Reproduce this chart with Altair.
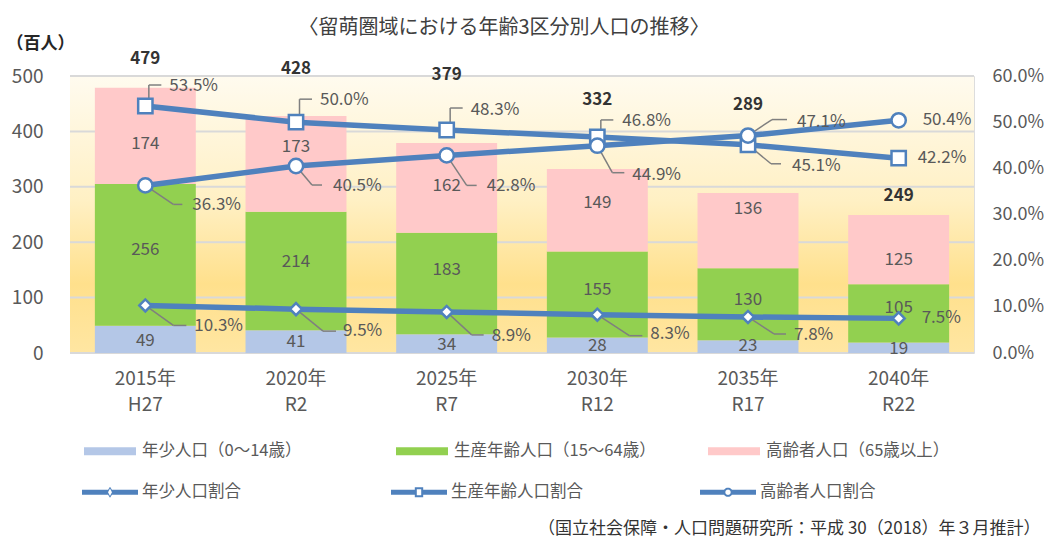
import math
import altair as alt
import pandas as pd

# ---------------- data ----------------
years = ["2015年", "2020年", "2025年", "2030年", "2035年", "2040年"]
eras = ["H27", "R2", "R7", "R12", "R17", "R22"]
young = [49, 41, 34, 28, 23, 19]
working = [256, 214, 183, 155, 130, 105]
elderly = [174, 173, 162, 149, 136, 125]
totals = [479, 428, 379, 332, 289, 249]
young_pct = [10.3, 9.5, 8.9, 8.3, 7.8, 7.5]
working_pct = [53.5, 50.0, 48.3, 46.8, 45.1, 42.2]
elderly_pct = [36.3, 40.5, 42.8, 44.9, 47.1, 50.4]

bar_names = ["年少人口（0～14歳）", "生産年齢人口（15～64歳）", "高齢者人口（65歳以上）"]
line_names = ["年少人口割合", "生産年齢人口割合", "高齢者人口割合"]
left_ticks = [0, 100, 200, 300, 400, 500]
right_ticks = [0, 10, 20, 30, 40, 50, 60]

title_text = "〈留萌圏域における年齢3区分別人口の推移〉"
unit_text = "（百人）"
source_text = "（国立社会保障・人口問題研究所：平成 30（2018）年３月推計）"

# ---------------- annotation layout (pixels / axis units) ----------------
# height (in 百人 axis units) at which each label sits
total_label_pos = [531, 513, 502, 457, 448, 283]
young_lbl_pos = [21, 19, 15, 12, 12, 8]
working_lbl_pos = [186, 165, 149, 114, 96, 82]
elderly_lbl_pos = [378, 372, 301, 270, 260, 168]
# per share label: text dx, text dy, leader start x, elbow x, elbow y, leader end x (None = no leader)
young_lbl = [(49, 21, 0, 28, 20, 41), (47, 22, 0, 27, 22, 40), (45, 24, 0, 25, 23, 37),
             (53, 19, 0, 32, 21, 45), (46, 18, 0, 26, 17, 38), (23, 0, None, None, None, None)]
working_lbl = [(24, -20, 3.5, 3.5, -21, 16), (24, -22, 3.5, 3.5, -23, 16), (24, -20, 3.5, 3.5, -22, 16),
               (25, -16, 3.5, 3.5, -17, 16), (44, 21, 0, 23, 19, 33), (19, 0, None, None, None, None)]
elderly_lbl = [(47, 20, 0, 28, 19, 37), (37, 20, 0, 16, 19, 26), (40, 31, 0, 20, 30, 30),
               (35, 29, 0, 15, 27, 27), (49, -14, 0, 24, -16, 39), (24, 0, None, None, None, None)]

# ---------------- styles ----------------
FONT = "Noto Sans CJK JP"
BLUE = "#4F81BD"
BAR_COLORS = ["#B4C7E7", "#92D050", "#FFC9C9"]
TXT = "#595959"
SHAPES = ["diamond", "square", "circle"]
SIZES = [144, 205, 205]


def _poly(r, n, ccw):
    ang = [2 * math.pi * k / n for k in range(n)]
    if ccw:
        ang = ang[::-1]
    pts = [f"{r * math.cos(a):.4f},{r * math.sin(a):.4f}" for a in ang]
    return "M" + "L".join(pts) + "Z"


def _bars(edge):
    return (f"M-1,-0.09H-{edge}V0.09H-1Z"
            f"M{edge},-0.09H1V0.09H{edge}Z")


# legend glyphs: thick line + hollow marker (outer ring clockwise, hole counter-clockwise)
LEGEND_PATHS = [
    _bars(0.075) + "M0,-0.2L0.125,0L0,0.2L-0.125,0Z" + "M0,-0.13L-0.07,0L0,0.13L0.07,0Z",
    _bars(0.12) + "M-0.15,-0.18H0.15V0.18H-0.15Z" + "M-0.079,-0.109V0.109H0.079V-0.109Z",
    _bars(0.13) + _poly(0.165, 28, False) + _poly(0.095, 28, True),
]

cats = [f"{y}|{e}" for y, e in zip(years, eras)]

# ---------------- tables ----------------
seg_rows = []
for i, c in enumerate(cats):
    for j, (vals, pos) in enumerate(zip([young, working, elderly],
                                        [young_lbl_pos, working_lbl_pos, elderly_lbl_pos])):
        seg_rows.append({"cat": c, "seg": bar_names[j], "value": vals[i], "order": j, "pos": pos[i]})
seg_df = pd.DataFrame(seg_rows)

tot_df = pd.DataFrame({"cat": cats, "total": totals, "pos": total_label_pos})
tick_df = pd.DataFrame({"tick": left_ticks})

line_rows = []
for name, pcts, lays in zip(line_names, [young_pct, working_pct, elderly_pct],
                            [young_lbl, working_lbl, elderly_lbl]):
    for c, p, lay in zip(cats, pcts, lays):
        tdx, tdy, sx, ex, ey, hx = lay
        line_rows.append({"cat": c, "series": name, "pct": p, "tdx": tdx, "tdy": tdy,
                          "sx": sx, "ex": ex, "ey": ey, "hx": hx})
line_df = pd.DataFrame(line_rows)
lead_df = line_df.dropna(subset=["hx"]).copy()

legend_df = pd.DataFrame({"cat": cats[:3], "key": line_names, "pct": [0, 0, 0]})

# ---------------- encodings ----------------
x_axis = alt.Axis(
    title=source_text, labelExpr="split(datum.label, '|')", labelAngle=0,
    labelFont=FONT, labelFontSize=19, labelColor=TXT, labelLineHeight=26, labelPadding=16,
    ticks=False, domain=False,
    titleFont=FONT, titleFontSize=17, titleFontWeight="normal", titleColor="#333333",
    titleX=970, titleY=175, titleAlign="right", titleBaseline="middle",
)
x_enc = alt.X("cat:N", sort=cats, axis=x_axis,
              scale=alt.Scale(paddingInner=0.33, paddingOuter=0.165))

y_left_scale = alt.Scale(domain=[0, 500], nice=False, zero=True)
y_left_axis = alt.Axis(
    values=left_ticks, grid=False, domain=False, ticks=False,
    labelFont=FONT, labelFontSize=19, labelColor=TXT, labelPadding=27,
    title=unit_text, titleAngle=0, titleX=-64, titleY=-33, titleAlign="left",
    titleBaseline="middle", titleFont=FONT, titleFontSize=17, titleFontWeight="bold",
    titleColor="#262626",
)
y_right_scale = alt.Scale(domain=[0, 60], nice=False, zero=True)
y_right_axis = alt.Axis(
    orient="right", values=right_ticks, grid=False, domain=False, ticks=False,
    labelExpr="format(datum.value, '.1f') + '%'",
    labelFont=FONT, labelFontSize=18, labelColor=TXT, labelPadding=18, title=None,
)

def yl(field):
    return alt.Y(field, scale=y_left_scale, axis=y_left_axis)

def yr(field):
    return alt.Y(field, scale=y_right_scale, axis=y_right_axis)

common_legend = dict(orient="none", direction="horizontal", columns=3, gridAlign="all",
                     labelFont=FONT, labelFontSize=16.5, labelColor=TXT, title=None,
                     padding=0, labelLimit=400)

# ---------------- left group (people) ----------------
bg = alt.Chart(pd.DataFrame({"k": [0]})).mark_rect(
    fill=alt.LinearGradient(
        gradient="linear", x1=0, x2=0, y1=0, y2=1,
        stops=[alt.GradientStop(color="#FFFBEF", offset=0),
               alt.GradientStop(color="#FFF0C4", offset=0.45),
               alt.GradientStop(color="#FFE08C", offset=0.75),
               alt.GradientStop(color="#FFE6A2", offset=1)],
    )
).encode(x=alt.value(0), x2=alt.value("width"), y=alt.value(0), y2=alt.value("height"))

grid = alt.Chart(tick_df).mark_rule(color="#D9D9D9", strokeWidth=2).encode(y=yl("tick:Q"))

bars = alt.Chart(seg_df).mark_bar().encode(
    x=x_enc,
    y=alt.Y("value:Q", stack="zero", scale=y_left_scale, axis=y_left_axis),
    fill=alt.Fill("seg:N", scale=alt.Scale(domain=bar_names, range=BAR_COLORS),
                  legend=alt.Legend(symbolType="M-1,-0.15H1V0.15H-1Z", symbolSize=2704,
                                    symbolStrokeWidth=0, legendX=14, legendY=349,
                                    labelOffset=6, columnPadding=52, **common_legend)),
    order=alt.Order("order:Q"),
)

bar_text = alt.Chart(seg_df).mark_text(font=FONT, fontSize=17, color=TXT, baseline="middle").encode(
    x=x_enc, y=yl("pos:Q"), text="value:Q")

tot_text = alt.Chart(tot_df).mark_text(font=FONT, fontSize=17, fontWeight="bold",
                                       color="#333333", baseline="middle").encode(
    x=x_enc, y=yl("pos:Q"), text="total:Q")

left = alt.layer(bg, grid, bars, bar_text, tot_text)

# ---------------- right group (shares) ----------------
lead1 = alt.Chart(lead_df).mark_rule(
    color="#7F7F7F", strokeWidth=1.5,
    xOffset=alt.expr("datum.sx"), x2Offset=alt.expr("datum.ex"),
    y2Offset=alt.expr("datum.ey"),
).encode(x=x_enc, x2="cat", y=yr("pct:Q"), y2="pct")

lead2 = alt.Chart(lead_df).mark_rule(
    color="#7F7F7F", strokeWidth=1.5,
    xOffset=alt.expr("datum.ex"), x2Offset=alt.expr("datum.hx"),
    yOffset=alt.expr("datum.ey"), y2Offset=alt.expr("datum.ey"),
).encode(x=x_enc, x2="cat", y=yr("pct:Q"), y2="pct")

lines = alt.Chart(line_df).mark_line(strokeWidth=5.5, strokeCap="round", color=BLUE).encode(
    x=x_enc, y=yr("pct:Q"), detail="series:N",
)

markers = []
for name, shp, sz in zip(line_names, SHAPES, SIZES):
    markers.append(
        alt.Chart(line_df[line_df["series"] == name]).mark_point(
            shape=shp, size=sz, filled=True, fill="white", stroke=BLUE, strokeWidth=2.5, opacity=1
        ).encode(x=x_enc, y=yr("pct:Q"))
    )

legend_marks = alt.Chart(legend_df).transform_filter("false").mark_point(
    filled=True, fill=BLUE, color=BLUE, strokeWidth=0
).encode(
    x=x_enc, y=yr("pct:Q"),
    shape=alt.Shape("key:N", scale=alt.Scale(domain=line_names, range=LEGEND_PATHS),
                    legend=alt.Legend(symbolSize=3136, symbolStrokeWidth=0,
                                      symbolFillColor=BLUE, symbolOpacity=1, labelOffset=4,
                                      legendX=12, legendY=388, columnPadding=117,
                                      **common_legend)),
)

pct_text = alt.Chart(line_df).transform_calculate(
    lbl="format(datum.pct, '.1f') + '%'"
).mark_text(font=FONT, fontSize=17, color=TXT, align="left", baseline="middle",
            dx=alt.expr("datum.tdx"), dy=alt.expr("datum.tdy")).encode(
    x=x_enc, y=yr("pct:Q"), text="lbl:N")

right = alt.layer(lead1, lead2, lines, *markers, legend_marks, pct_text)

chart = alt.layer(left, right).resolve_scale(y="independent").properties(
    width=904, height=277,
    padding={"left": 62, "top": 68, "right": 72, "bottom": 185},
    autosize=alt.AutoSizeParams(type="none"),
    title=alt.TitleParams(text=title_text, font=FONT, fontSize=20, fontWeight="normal",
                          color="#404040", anchor="middle", dx=-18, offset=-4),
).configure_view(stroke=None).configure(font=FONT)

chart.save("out.html", embed_options={"renderer": "svg", "actions": False})
